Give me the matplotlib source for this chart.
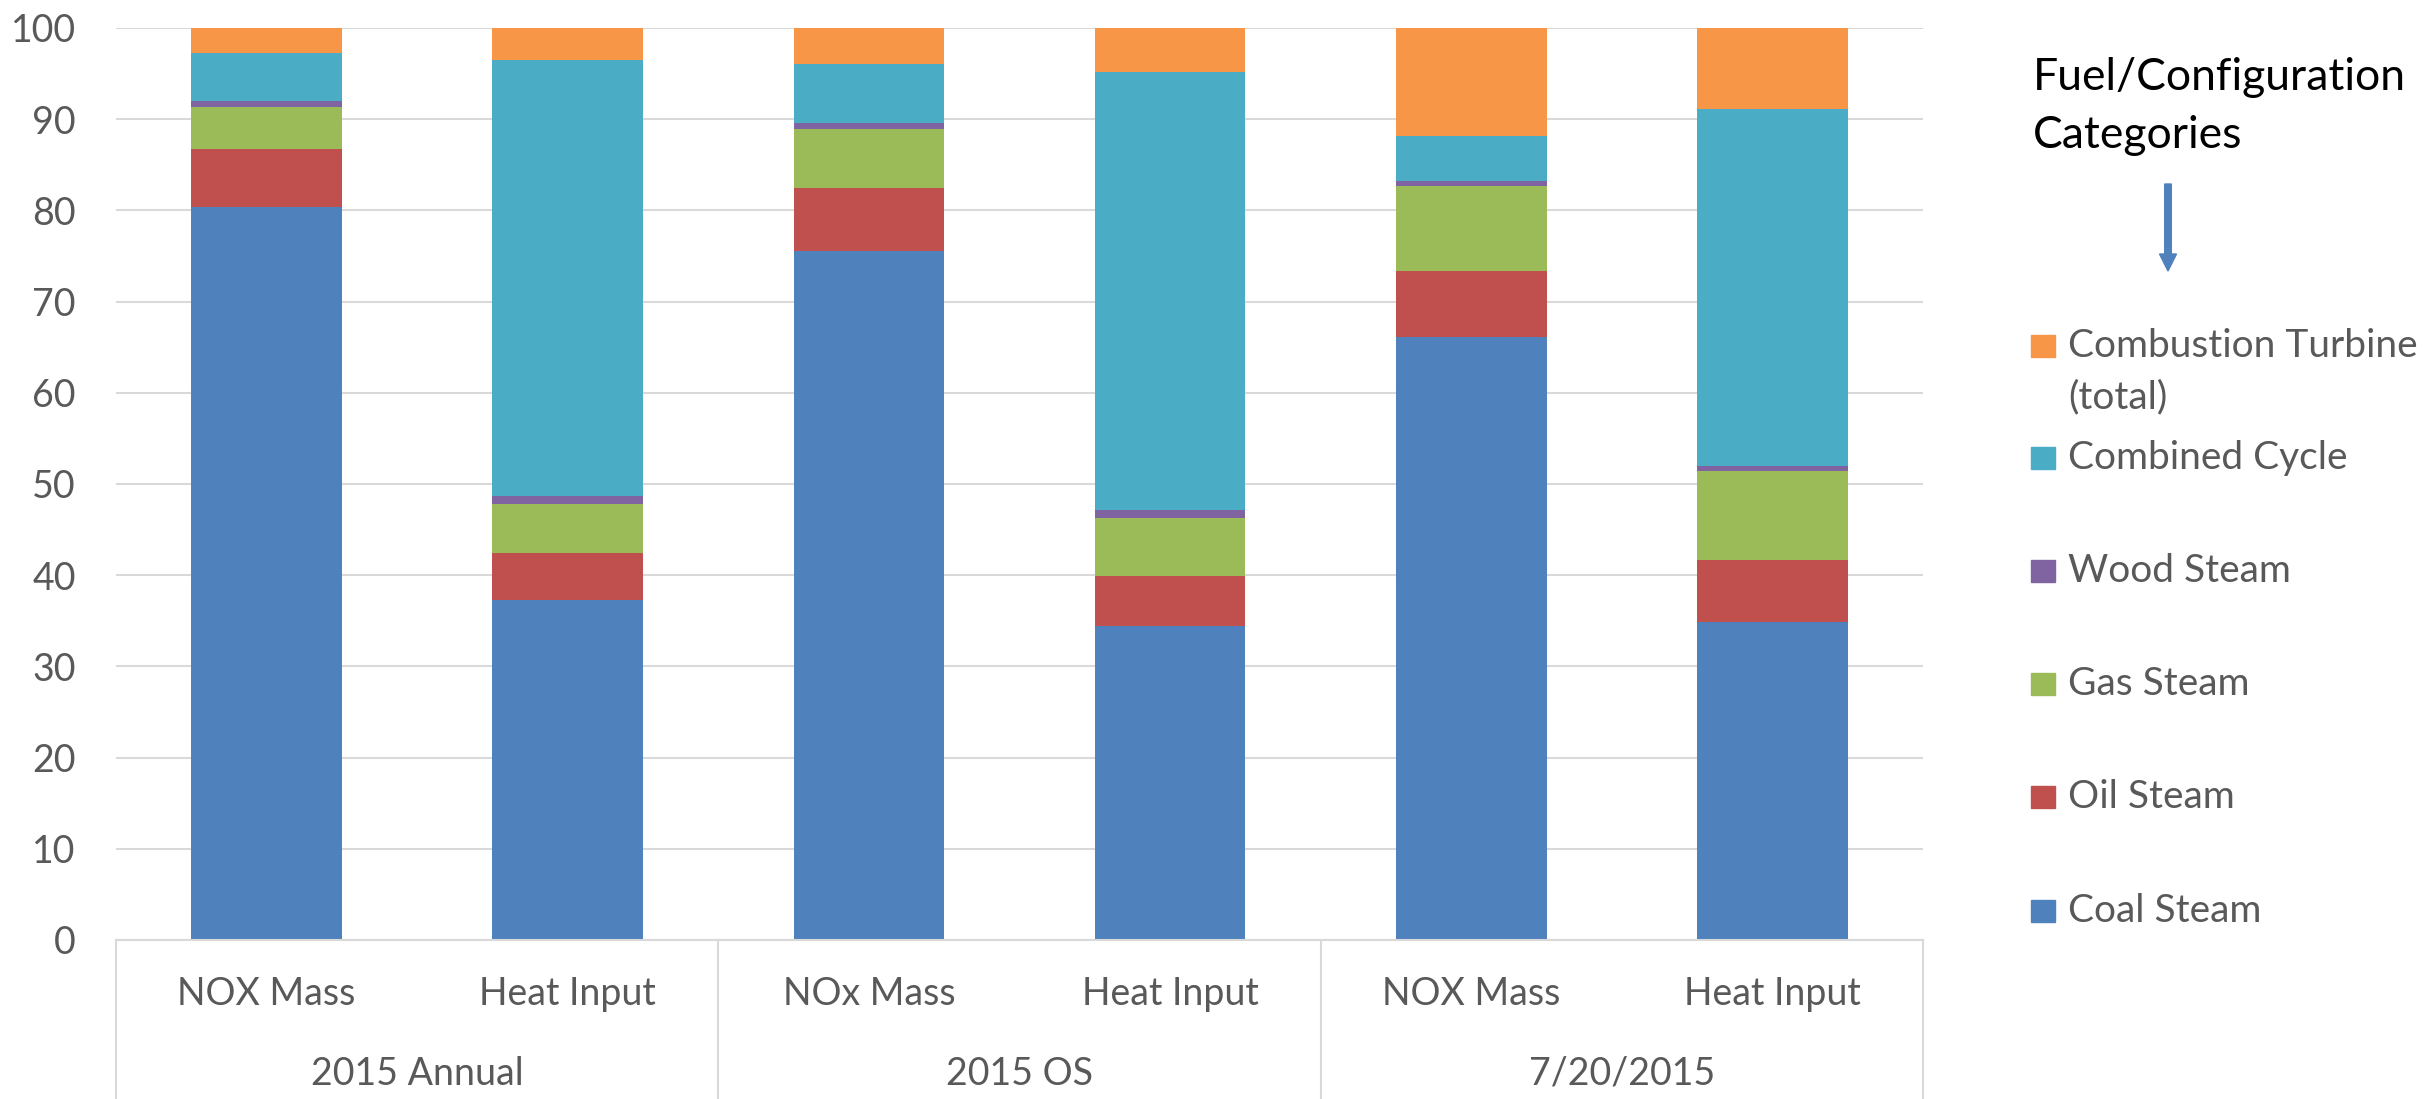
import numpy as np
import matplotlib
matplotlib.use("Agg")
import matplotlib.pyplot as plt
from matplotlib.patches import Rectangle, FancyArrow

# values (percent of total)
measures = ["NOX Mass", "Heat Input", "NOx Mass", "Heat Input", "NOX Mass", "Heat Input"]
periods = ["2015 Annual", "2015 OS", "7/20/2015"]

coal_steam = [80.4, 37.3, 75.6, 34.4, 66.1, 34.9]
oil_steam = [6.3, 5.1, 6.9, 5.5, 7.3, 6.8]
gas_steam = [4.6, 5.4, 6.4, 6.4, 9.3, 9.7]
wood_steam = [0.7, 0.9, 0.7, 0.8, 0.5, 0.6]
combined_cycle = [5.3, 47.8, 6.4, 48.1, 5.0, 39.1]
combustion_turbine = [2.7, 3.5, 4.0, 4.8, 11.8, 8.9]

series_names = ["Coal Steam", "Oil Steam", "Gas Steam", "Wood Steam",
                "Combined Cycle", "Combustion Turbine\n(total)"]
series_vals = [coal_steam, oil_steam, gas_steam, wood_steam, combined_cycle, combustion_turbine]
colors = ["#4F81BD", "#C0504D", "#9BBB59", "#8064A2", "#4BACC6", "#F79646"]

FONT = "Lato"
GRAY = "#595959"
GRID = "#D9D9D9"

W, H = 2425, 1099
fig = plt.figure(figsize=(W / 100, H / 100), dpi=100)
ax_l, ax_r, ax_t, ax_b = 116, 1923, 28, 940
ax = fig.add_axes([ax_l / W, 1 - ax_b / H, (ax_r - ax_l) / W, (ax_b - ax_t) / H])

x = np.arange(len(measures))
bottom = np.zeros(len(measures))
for vals, col in zip(series_vals, colors):
    ax.bar(x, vals, width=0.5, bottom=bottom, color=col, linewidth=0, zorder=2)
    bottom += np.array(vals)

ax.set_xlim(-0.5, len(measures) - 0.5)
ax.set_ylim(0, 100)
ax.set_yticks(range(0, 101, 10))
ax.set_yticklabels([str(v) for v in range(0, 101, 10)], fontsize=27, color=GRAY, family=FONT)
ax.tick_params(axis="y", length=0, pad=29)
ax.set_xticks([])
ax.yaxis.grid(True, color=GRID, linewidth=1.5, zorder=0)
ax.set_axisbelow(True)
for s in ["left", "right", "top"]:
    ax.spines[s].set_visible(False)
ax.spines["bottom"].set_color(GRID)
ax.spines["bottom"].set_linewidth(1.5)

# two-level category axis drawn below the plot
tr = ax.get_xaxis_transform()
box_bottom = -(H - ax_b) / (ax_b - ax_t)
for xv in [-0.5, 1.5, 3.5, 5.5]:
    ax.plot([xv, xv], [0, box_bottom], color=GRID, linewidth=1.5, transform=tr, clip_on=False)
for i, m in enumerate(measures):
    ax.text(i, -54 / (ax_b - ax_t), m, transform=tr, ha="center", va="center",
            fontsize=27, color=GRAY, family=FONT)
for j, p in enumerate(periods):
    ax.text(2 * j + 0.5, -134 / (ax_b - ax_t), p, transform=tr, ha="center", va="center",
            fontsize=27, color=GRAY, family=FONT)

# legend drawn by hand, Excel-style
fig.text(2033 / W, 1 - 78 / H, "Fuel/Configuration", fontsize=32, color="black",
         family=FONT, va="center", ha="left")
fig.text(2033 / W, 1 - 135 / H, "Categories", fontsize=32, color="black",
         family=FONT, va="center", ha="left")
fig.add_artist(FancyArrow(2168 / W, 1 - 184 / H, 0, -(271 - 184) / H, width=3 / H,
                          head_width=17 / W, head_length=17 / H, length_includes_head=True,
                          color="#4F81BD", transform=fig.transFigure))

legend_y = [911, 797, 684, 571, 458, 346]
for name, col, yy in zip(series_names, colors, legend_y):
    fig.add_artist(Rectangle((2031 / W, 1 - (yy + 11) / H), 24 / W, 22 / H,
                             color=col, transform=fig.transFigure))
    for k, line in enumerate(name.split("\n")):
        fig.text(2068 / W, 1 - (yy + 51 * k) / H, line, fontsize=28, color=GRAY,
                 family=FONT, va="center", ha="left")

fig.savefig("out.png", dpi=100)
